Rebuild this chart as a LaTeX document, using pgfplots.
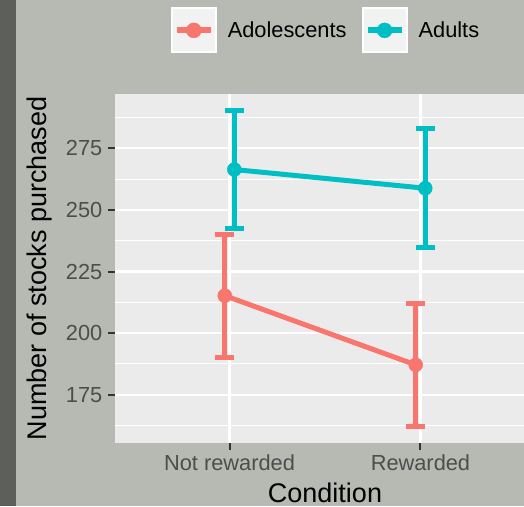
\documentclass[border=0pt]{standalone}
\usepackage{fontspec}
\setmainfont{Liberation Sans}
\usepackage{pgfplots}
\pgfplotsset{compat=1.18}
\definecolor{bgout}{HTML}{B7BAB2}
\definecolor{strip}{HTML}{5D605A}
\definecolor{panel}{HTML}{EBEBEB}
\definecolor{adol}{HTML}{F8766D}
\definecolor{adul}{HTML}{00BFC4}
\definecolor{ticklab}{HTML}{4D4D4D}
\definecolor{tickc}{HTML}{333333}
\definecolor{keybg}{HTML}{F2F2F2}
\begin{document}
\begin{tikzpicture}
\fill[bgout] (0,0) rectangle (524pt,506pt);
\fill[strip] (0,0) rectangle (16pt,506pt);
\clip (0,0) rectangle (524pt,506pt);
\begin{axis}[
  at={(115pt,63.3pt)}, anchor=south west,
  scale only axis, width=420pt, height=348.3pt,
  xmin=0.4, xmax=2.6, ymin=155.5, ymax=296.9,
  axis background/.style={fill=panel},
  axis line style={draw=none},
  xtick={1,2}, xticklabels={Not rewarded, Rewarded},
  ytick={175,200,225,250,275},
  minor ytick={162.5,187.5,212.5,237.5,262.5,287.5},
  grid=both,
  major grid style={white, line width=2.2pt},
  minor grid style={white, line width=1.1pt},
  tick align=outside,
  major tick length=7pt,
  minor tick length=0pt,
  tick style={tickc, line width=2pt},
  xtick pos=left, ytick pos=left,
  /pgf/number format/assume math mode=true,
  ticklabel style={font=\fontsize{21.8}{26}\selectfont, text=ticklab},
  yticklabel style={inner sep=0pt, xshift=-5.5pt},
  xticklabel style={inner sep=0pt, yshift=-4.5pt},
  xlabel={Condition},
  ylabel={Number of stocks purchased},
  xlabel style={font=\fontsize{27}{32}\selectfont, at={(axis description cs:0.5,-0.1731)}, anchor=base, inner sep=0pt},
  ylabel style={font=\fontsize{27}{32}\selectfont, at={(axis description cs:-0.2095,0.5)}, anchor=north, inner sep=0pt},
  legend columns=2,
  legend style={at={(axis description cs:0.5,1.1838)}, anchor=center, draw=none, fill=none,
    font=\fontsize{21.8}{26}\selectfont, nodes={inner sep=0pt},
    /tikz/every odd column/.append style={column sep=11pt},
    /tikz/every even column/.append style={column sep=15pt}},
  legend image code/.code={
    \draw[white, fill=keybg, line width=2pt] (0pt,-22pt) rectangle (44pt,22pt);
    \draw[#1, line width=6pt] (5pt,0pt) -- (39pt,0pt);
    \fill[#1] (22pt,0pt) circle (7.5pt);
  },
]
\addplot[adol, line width=5pt, mark=*, mark size=7pt, mark options={line width=0.5pt}, forget plot,
  error bars/.cd, y dir=both, y explicit,
  error mark options={rotate=90, adol, mark size=9.5pt, line width=5pt},
  error bar style={line width=5pt}]
  coordinates {(0.975,215.2) +- (0,25.0) (1.975,187.1) +- (0,25.0)};
\addplot[adul, line width=5pt, mark=*, mark size=7pt, mark options={line width=0.5pt}, forget plot,
  error bars/.cd, y dir=both, y explicit,
  error mark options={rotate=90, adul, mark size=9.5pt, line width=5pt},
  error bar style={line width=5pt}]
  coordinates {(1.025,266.4) +- (0,24.1) (2.025,258.8) +- (0,24.1)};
\addlegendimage{adol}
\addlegendentry{Adolescents}
\addlegendimage{adul}
\addlegendentry{Adults}
\end{axis}
\end{tikzpicture}
\end{document}
